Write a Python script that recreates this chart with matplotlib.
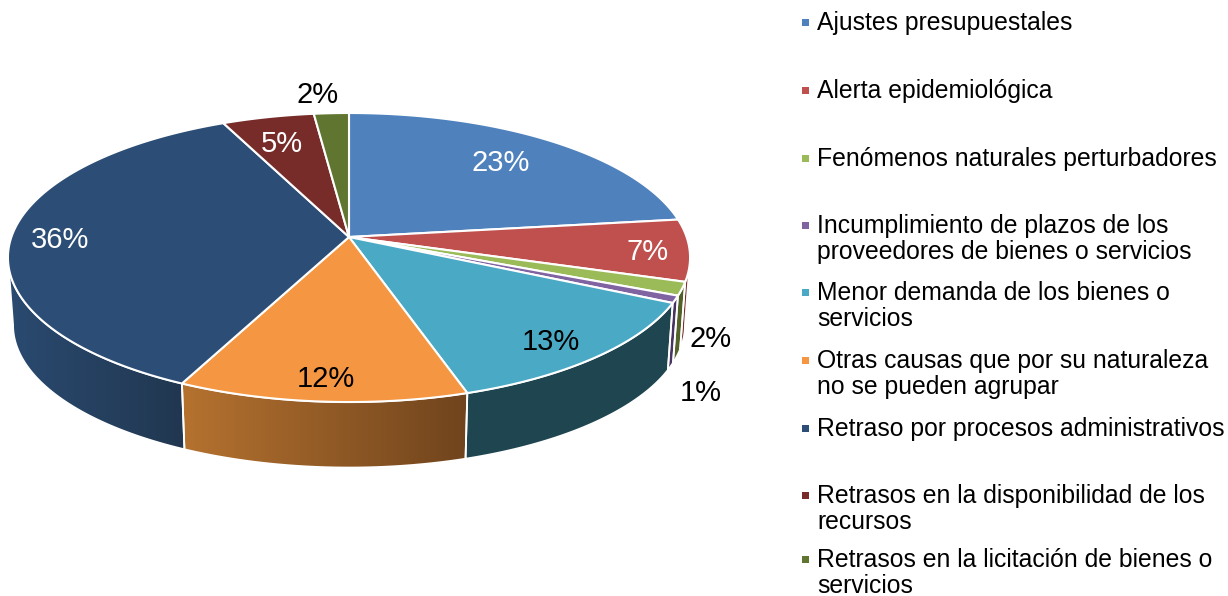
import numpy as np
import matplotlib
matplotlib.use("Agg")
import matplotlib.pyplot as plt
from matplotlib.patches import Polygon, Rectangle
from matplotlib.colors import to_rgb

plt.rcParams["font.family"] = ["Liberation Sans", "DejaVu Sans"]

# data (the small slices are rounded in the labels)
categories = [
    "Ajustes presupuestales",
    "Alerta epidemiológica",
    "Fenómenos naturales perturbadores",
    "Incumplimiento de plazos de los\nproveedores de bienes o servicios",
    "Menor demanda de los bienes o\nservicios",
    "Otras causas que por su naturaleza\nno se pueden agrupar",
    "Retraso por procesos administrativos",
    "Retrasos en la disponibilidad de los\nrecursos",
    "Retrasos en la licitación de bienes o\nservicios",
]
values = [23, 6.9, 1.5, 0.8, 12.9, 12, 36, 5, 1.9]
labels = ["23%", "7%", "2%", "1%", "13%", "12%", "36%", "5%", "2%"]

# styles
top_colors = ["#4f81bd", "#bf504d", "#9bbb59", "#8064a2", "#4aaac5",
              "#f49642", "#2c4d75", "#772c2a", "#5f7530"]
wall_left = ["#3a5f8c", "#7a2f2c", "#55662c", "#4a3763", "#1f4650",
             "#b5722f", "#2a4a70", "#4f1d1c", "#3f4e20"]
wall_right = ["#3a5f8c", "#7a2f2c", "#4d5f26", "#46335f", "#1f4650",
              "#70441d", "#213750", "#4f1d1c", "#3f4e20"]
label_colors = ["white", "white", "black", "black", "black",
                "black", "white", "white", "black"]
label_xy = [(501, 163), (648, 252), (711, 339), (701, 393), (551, 342),
            (326, 379), (60, 240), (282, 144), (318, 95)]
legend_y = [23, 91, 159, 239, 306, 374, 429, 509, 573]

# pie geometry in image pixels
CX, CY = 349, 237
A, B, K = 141.6, 337.6, 0.142
DEPTH = 68
SHRINK = 0.985
WALL_FROM, WALL_TO = 98, 262


def project(theta_deg, r=1.0, floor=False):
    th = np.radians(theta_deg)
    u, v = r * np.sin(th), r * np.cos(th)
    w = 1 + K * v
    x, y = B * u / w, A * v / w
    if floor:
        return CX + SHRINK * x, CY - SHRINK * y + DEPTH
    return CX + x, CY - y


def gradient(c0, c1):
    a, b = np.array(to_rgb(c0)), np.array(to_rgb(c1))
    t = np.linspace(0, 1, 128)[:, None]
    return (a + (b - a) * t)[None, :, :]


fig = plt.figure(figsize=(12.28, 5.96), dpi=100)
ax = fig.add_axes([0, 0, 1, 1])

edges = np.concatenate([[0], np.cumsum(values)]) / sum(values) * 360

# side walls
for i in range(len(values)):
    t0, t1 = max(edges[i], WALL_FROM), min(edges[i + 1], WALL_TO)
    if t1 <= t0:
        continue
    th = np.linspace(t0, t1, 80)
    xt, yt = project(th)
    xb, yb = project(th[::-1], floor=True)
    pts = np.column_stack([np.r_[xt, xb], np.r_[yt, yb]])
    poly = Polygon(pts, closed=True, facecolor="none", edgecolor="white",
                   linewidth=1.3, zorder=3)
    ax.add_patch(poly)
    im = ax.imshow(gradient(wall_left[i], wall_right[i]), aspect="auto", zorder=2,
                   extent=(pts[:, 0].min(), pts[:, 0].max(), pts[:, 1].max(), pts[:, 1].min()))
    im.set_clip_path(poly)

# top surface
for i in range(len(values)):
    th = np.linspace(edges[i], edges[i + 1], 120)
    x, y = project(th)
    pts = np.column_stack([np.r_[CX, x], np.r_[CY, y]])
    ax.add_patch(Polygon(pts, closed=True, facecolor=top_colors[i], edgecolor="white",
                         linewidth=1.5, joinstyle="round", zorder=4))

# data labels
for (lx, ly), txt, col in zip(label_xy, labels, label_colors):
    ax.text(lx, ly, txt, color=col, fontsize=21, ha="center", va="center", zorder=5)

# legend
for name, ly, col in zip(categories, legend_y, top_colors):
    nlines = name.count("\n") + 1
    first = ly - 12.5 * (nlines - 1)
    ax.add_patch(Rectangle((802, first - 4.5), 7, 7, facecolor=col, edgecolor="none"))
    ax.text(817, ly, name, fontsize=17.8, ha="left", va="center", color="black",
            linespacing=1.15)

ax.set_xlim(0, 1228)
ax.set_ylim(596, 0)
ax.axis("off")

fig.savefig("out.png", dpi=100)
